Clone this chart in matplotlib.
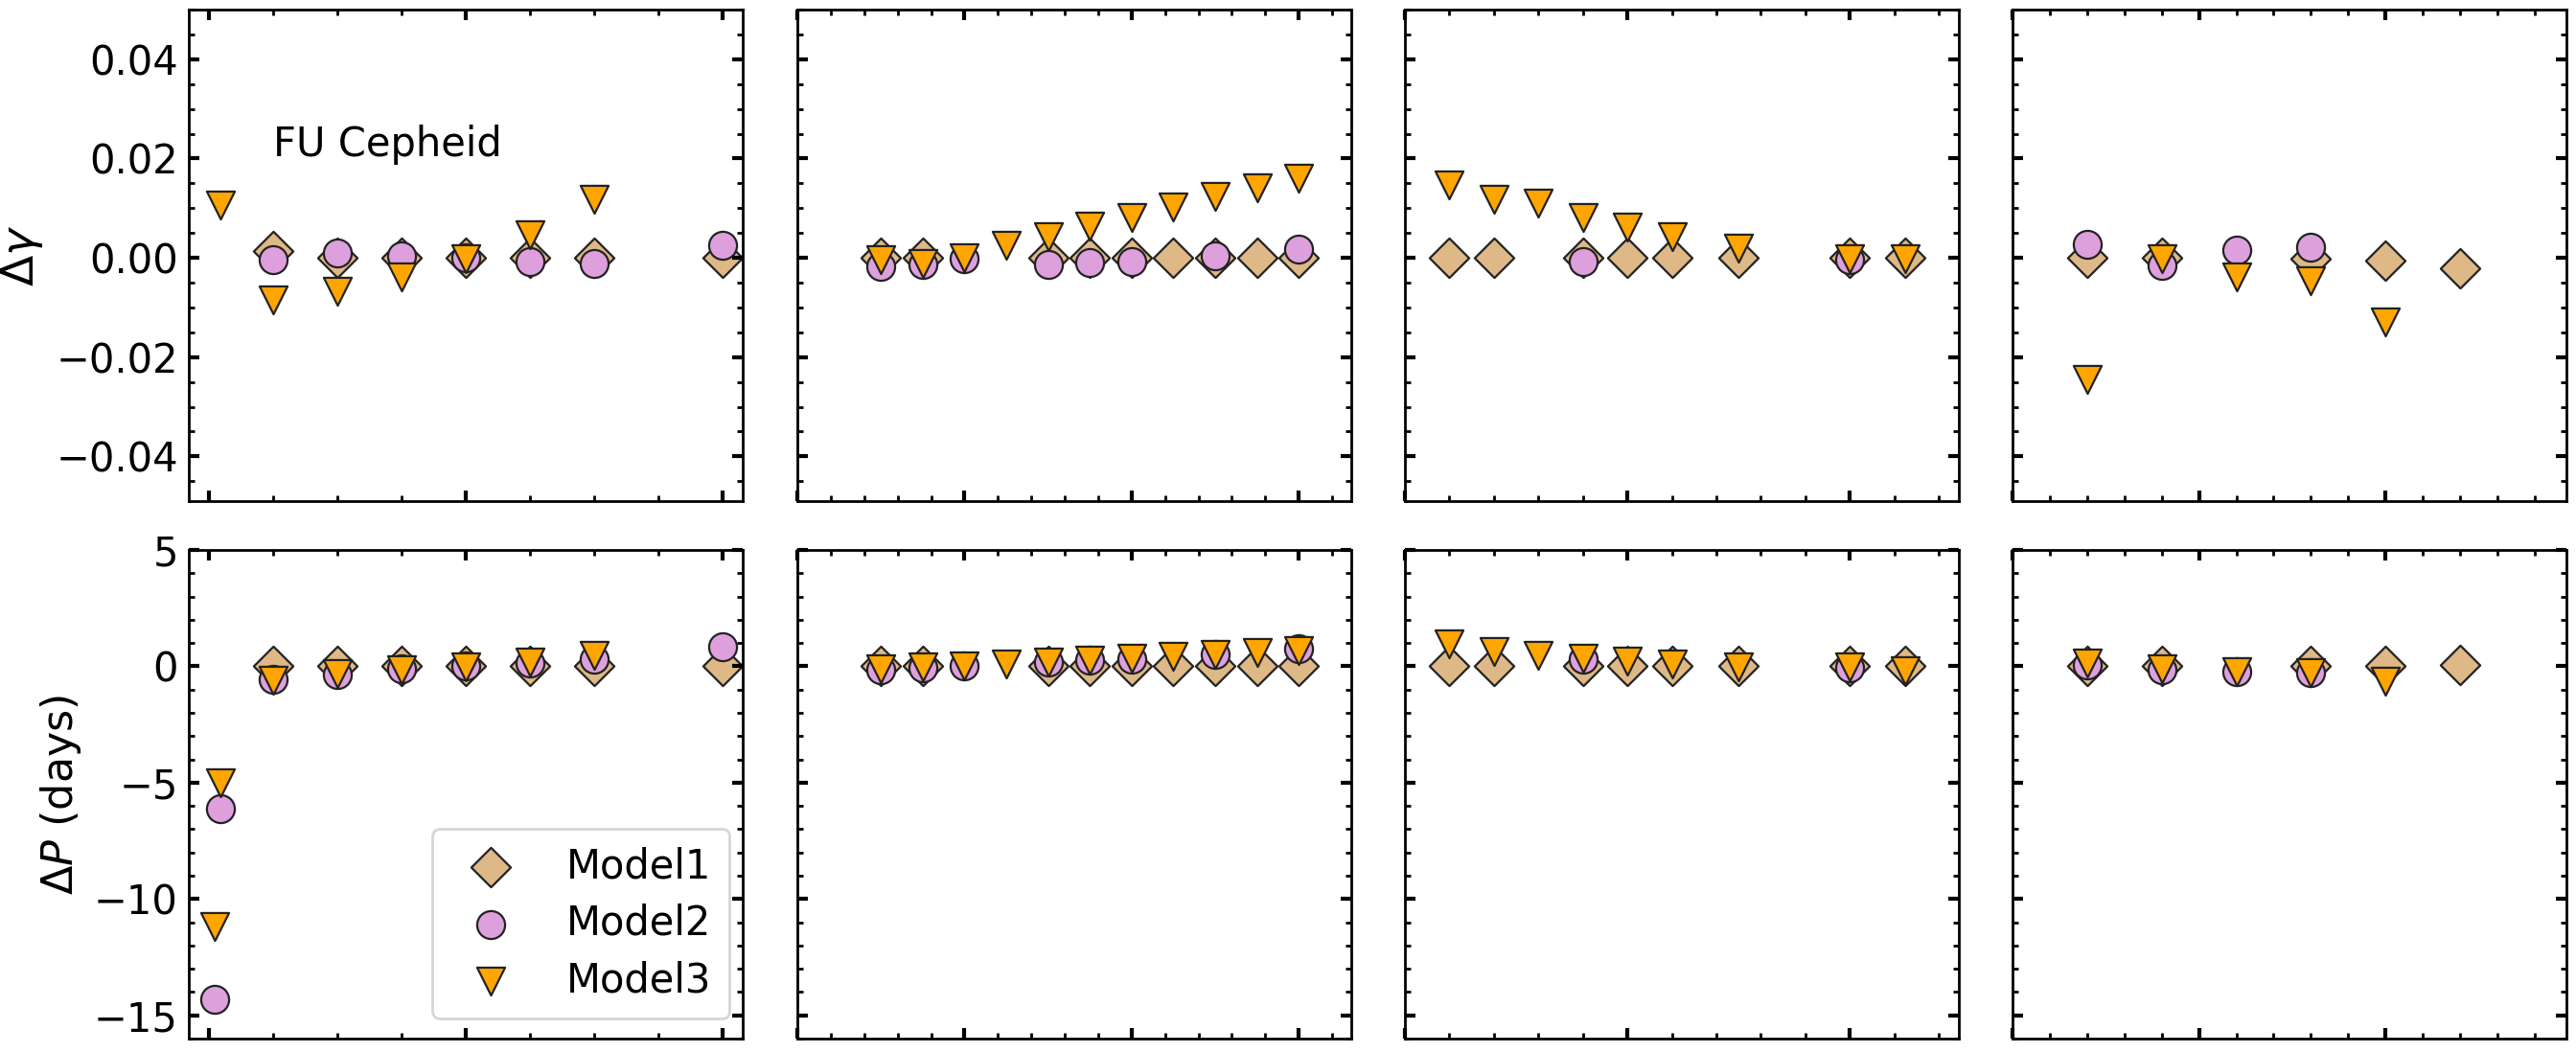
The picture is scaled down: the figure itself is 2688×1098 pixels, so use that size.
import matplotlib
matplotlib.use("Agg")
import matplotlib.pyplot as plt
from matplotlib.ticker import MultipleLocator, NullFormatter

plt.rcParams['font.family'] = ['DejaVu Sans']
plt.rcParams['font.size'] = 15

# ---------------- data ----------------
# Panel 1 (FU Cepheid)
p1_m1_x = [0.5, 1.0, 1.5, 2.0, 2.5, 3.0, 4.0]
p1_m1_dg = [0.0014, 0.0, 0.0, 0.0, 0.0, 0.0, 0.0]
p1_m1_dp = [0.0, 0.0, 0.0, 0.0, 0.0, 0.0, 0.0]
p1_m2_x_top = [0.5, 1.0, 1.5, 2.0, 2.5, 3.0, 4.0]
p1_m2_dg = [-0.0004, 0.001, 0.0005, 0.0, -0.0007, -0.0012, 0.0026]
p1_m2_x_bot = [0.05, 0.095, 0.5, 1.0, 1.5, 2.0, 2.5, 3.0, 4.0]
p1_m2_dp = [-14.3, -6.1, -0.55, -0.36, -0.12, 0.0, 0.15, 0.32, 0.83]
p1_m3_x_top = [0.095, 0.5, 1.0, 1.5, 2.0, 2.5, 3.0]
p1_m3_dg = [0.0107, -0.0084, -0.0068, -0.0038, -0.0001, 0.0047, 0.0117]
p1_m3_x_bot = [0.05, 0.095, 0.5, 1.0, 1.5, 2.0, 2.5, 3.0]
p1_m3_dp = [-11.2, -5.0, -0.58, -0.3, -0.16, -0.03, 0.19, 0.47]

# Panel 2
p2_m1_x = [-2.5, -1.25, 2.5, 3.75, 5.0, 6.25, 7.5, 8.75, 10.0]
p2_m1_dg = [0.0, 0.0, 0.0, 0.0, 0.0, 0.0, 0.0, 0.0, 0.0]
p2_m1_dp = [0.0, 0.0, 0.0, 0.0, 0.0, 0.0, 0.0, 0.0, 0.0]
p2_m2_x = [-2.5, -1.25, 0.0, 2.5, 3.75, 5.0, 7.5, 10.0]
p2_m2_dg = [-0.0017, -0.0014, -0.0002, -0.0013, -0.0009, -0.0007, 0.0005, 0.0018]
p2_m2_dp = [-0.15, -0.07, 0.0, 0.17, 0.26, 0.32, 0.51, 0.77]
p2_m3_x = [-2.5, -1.25, 0.0, 1.25, 2.5, 3.75, 5.0, 6.25, 7.5, 8.75, 10.0]
p2_m3_dg = [-0.0003, -0.0012, 0.0, 0.0026, 0.0043, 0.0064, 0.0082, 0.0102, 0.0123, 0.0142, 0.0161]
p2_m3_dp = [-0.09, -0.04, 0.0, 0.1, 0.19, 0.26, 0.35, 0.42, 0.51, 0.58, 0.68]

# Panel 3
p3_m1_x = [-4.0, -3.0, -1.0, 0.0, 1.0, 2.5, 5.0, 6.25]
p3_m1_dg = [0.0, 0.0, 0.0, 0.0, 0.0, 0.0, 0.0, 0.0]
p3_m1_dp = [0.0, 0.0, 0.0, 0.0, 0.0, 0.0, 0.0, 0.0]
p3_m2_x = [-1.0, 5.0]
p3_m2_dg = [-0.0008, -0.0003]
p3_m2_dp = [0.32, -0.07]
p3_m3_x = [-4.0, -3.0, -2.0, -1.0, 0.0, 1.0, 2.5, 5.0, 6.25]
p3_m3_dg = [0.0146, 0.0117, 0.011, 0.0082, 0.0062, 0.0043, 0.0019, -0.0001, -0.0001]
p3_m3_dp = [0.96, 0.64, 0.47, 0.35, 0.23, 0.12, -0.03, -0.04, -0.19]

# Panel 4
p4_m1_x = [-3.0, -1.0, 3.0, 5.0, 7.0]
p4_m1_dg = [0.0, 0.0, -0.0001, -0.0005, -0.0022]
p4_m1_dp = [0.0, 0.0, 0.0, 0.0, 0.04]
p4_m2_x = [-3.0, -1.0, 1.0, 3.0]
p4_m2_dg = [0.0027, -0.0016, 0.0016, 0.0022]
p4_m2_dp = [0.07, -0.15, -0.22, -0.29]
p4_m3_x = [-3.0, -1.0, 1.0, 3.0, 5.0]
p4_m3_dg = [-0.0245, -0.0001, -0.0039, -0.0047, -0.0129]
p4_m3_dp = [0.13, -0.09, -0.22, -0.26, -0.64]

labels = ["Model1", "Model2", "Model3"]

# ---------------- styling ----------------
styles = [
    dict(marker='D', c='burlywood'),
    dict(marker='o', c='plum'),
    dict(marker='v', c='orange'),
]
S = 110
EC = '#222222'
LW = 0.8

panels = [
    dict(xlim=(-0.155, 4.16), major=2.0, minor=0.5,
         top=[(p1_m1_x, p1_m1_dg), (p1_m2_x_top, p1_m2_dg), (p1_m3_x_top, p1_m3_dg)],
         bot=[(p1_m1_x, p1_m1_dp), (p1_m2_x_bot, p1_m2_dp), (p1_m3_x_bot, p1_m3_dp)]),
    dict(xlim=(-5.0, 11.57), major=5.0, minor=1.0,
         top=[(p2_m1_x, p2_m1_dg), (p2_m2_x, p2_m2_dg), (p2_m3_x, p2_m3_dg)],
         bot=[(p2_m1_x, p2_m1_dp), (p2_m2_x, p2_m2_dp), (p2_m3_x, p2_m3_dp)]),
    dict(xlim=(-5.0, 7.45), major=5.0, minor=1.0,
         top=[(p3_m1_x, p3_m1_dg), (p3_m2_x, p3_m2_dg), (p3_m3_x, p3_m3_dg)],
         bot=[(p3_m1_x, p3_m1_dp), (p3_m2_x, p3_m2_dp), (p3_m3_x, p3_m3_dp)]),
    dict(xlim=(-5.0, 9.85), major=5.0, minor=1.0,
         top=[(p4_m1_x, p4_m1_dg), (p4_m2_x, p4_m2_dg), (p4_m3_x, p4_m3_dg)],
         bot=[(p4_m1_x, p4_m1_dp), (p4_m2_x, p4_m2_dp), (p4_m3_x, p4_m3_dp)]),
]

W, H = 2688, 1098
DPI = 200
fig = plt.figure(figsize=(W / DPI, H / DPI), dpi=DPI)

col_left = [197, 832, 1466, 2100]
col_w = 578
top_row = (10, 523)
bot_row = (574, 1084)


def style_axis(ax, p, ymajor, yminor, ylim, show_y):
    ax.set_xlim(*p['xlim'])
    ax.set_ylim(*ylim)
    ax.xaxis.set_major_locator(MultipleLocator(p['major']))
    ax.xaxis.set_minor_locator(MultipleLocator(p['minor']))
    ax.yaxis.set_major_locator(MultipleLocator(ymajor))
    ax.yaxis.set_minor_locator(MultipleLocator(yminor))
    ax.xaxis.set_major_formatter(NullFormatter())
    ax.tick_params(which='both', direction='in', top=True, right=True)
    ax.tick_params(which='major', length=3.8, width=1.5, pad=4, labelsize=15)
    ax.tick_params(which='minor', length=2.2, width=1.0)
    if not show_y:
        ax.yaxis.set_major_formatter(NullFormatter())
    for s in ax.spines.values():
        s.set_linewidth(1.0)


axes_top, axes_bot = [], []
for i, p in enumerate(panels):
    l = col_left[i] / W
    w = col_w / W
    axt = fig.add_axes([l, (H - top_row[1]) / H, w, (top_row[1] - top_row[0]) / H])
    axb = fig.add_axes([l, (H - bot_row[1]) / H, w, (bot_row[1] - bot_row[0]) / H])
    for (x, y), st, lab in zip(p['top'], styles, labels):
        axt.scatter(x, y, s=S, marker=st['marker'], c=st['c'], edgecolors=EC, linewidths=LW, label=lab)
    for (x, y), st, lab in zip(p['bot'], styles, labels):
        axb.scatter(x, y, s=S, marker=st['marker'], c=st['c'], edgecolors=EC, linewidths=LW, label=lab)
    style_axis(axt, p, 0.02, 0.005, (-0.049, 0.05), i == 0)
    style_axis(axb, p, 5, 1, (-16, 5), i == 0)
    axes_top.append(axt)
    axes_bot.append(axb)

axes_top[0].set_ylabel(r'$\Delta\gamma$', fontsize=17)
axes_bot[0].set_ylabel(r'$\Delta P$ (days)', fontsize=16)
axes_top[0].text(0.153, 0.725, 'FU Cepheid', transform=axes_top[0].transAxes,
                 fontsize=15, ha='left', va='center')

axes_bot[0].legend(loc='lower right', bbox_to_anchor=(0.976, 0.041), borderaxespad=0,
                   fontsize=15, labelspacing=0.42, handletextpad=0.9, scatterpoints=1,
                   borderpad=0.45)

fig.savefig('out.png', dpi=DPI)
